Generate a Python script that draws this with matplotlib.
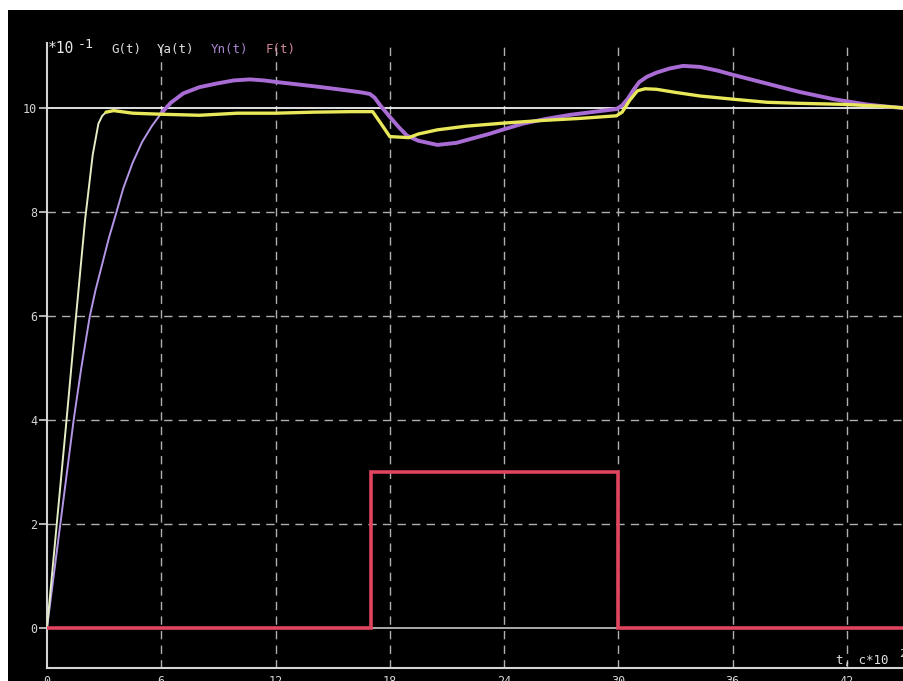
import matplotlib
matplotlib.use("Agg")
import matplotlib.pyplot as plt
from matplotlib.patches import Rectangle

# --- signals (values in units of 10^-1, time in units of 10^2 s) ---
t_g = [0, 45]
g = [10, 10]

t_ya = [0, 0.5, 1.0, 1.5, 2.0, 2.4, 2.7, 2.9, 3.1, 3.5, 4.5, 6, 8, 10, 12, 14, 16, 17.1,
        17.5, 18.0, 19.0, 19.5, 20.5, 22, 24, 26, 28, 29.9, 30.2, 30.6, 31.0, 31.4, 32.0,
        33.0, 34.3, 36, 37.8, 39.5, 41.8, 44, 45]
ya = [0, 1.95, 3.9, 5.9, 7.85, 9.1, 9.7, 9.85, 9.92, 9.95, 9.9, 9.88, 9.86, 9.9, 9.9, 9.92, 9.93, 9.93,
      9.72, 9.45, 9.43, 9.5, 9.58, 9.65, 9.71, 9.76, 9.8, 9.85, 9.92, 10.15, 10.33, 10.37, 10.36,
      10.3, 10.23, 10.17, 10.11, 10.09, 10.07, 10.03, 10.0]

t_yn = [0, 0.35, 0.7, 1.05, 1.4, 1.8, 2.25, 2.55, 2.9, 3.25, 3.65, 4.0, 4.5, 5.0, 5.5, 6.0,
        6.5, 7.15, 8.0, 8.9, 9.8, 10.65, 11.4, 12.05, 13.0, 14.2, 15.5, 16.5, 16.95, 17.2,
        17.5, 18.0, 18.5, 18.9, 19.5, 20.5, 21.5, 22.4, 23.2, 23.9, 25.0, 26.2, 27.5, 28.8,
        29.9, 30.2, 30.5, 30.8, 31.1, 31.5, 32.0, 32.7, 33.4, 34.3, 35.2, 36, 37.8, 39.5,
        41.3, 43.0, 44, 45]
yn = [0, 1.0, 2.0, 3.0, 4.0, 5.0, 6.0, 6.5, 7.0, 7.5, 8.0, 8.45, 8.95, 9.35, 9.65, 9.9,
      10.1, 10.28, 10.4, 10.47, 10.53, 10.55, 10.53, 10.5, 10.46, 10.41, 10.35, 10.3, 10.27, 10.2,
      10.05, 9.83, 9.62, 9.47, 9.37, 9.29, 9.33, 9.42, 9.5, 9.58, 9.7, 9.79, 9.87, 9.93,
      9.98, 10.05, 10.18, 10.35, 10.5, 10.6, 10.68, 10.76, 10.81, 10.79, 10.72, 10.64, 10.47, 10.31,
      10.17, 10.07, 10.03, 10.0]

t_f = [0, 17.0, 17.0, 30.0, 30.0, 45]
f = [0, 0, 3, 3, 0, 0]

x_ticks = [0, 6, 12, 18, 24, 30, 36, 42]
y_ticks = [0, 2, 4, 6, 8, 10]
grid_y = [2, 4, 6, 8]

W, H = 904, 681
fig = plt.figure(figsize=(W / 100, H / 100), dpi=100, facecolor="white")
fig.patches.append(Rectangle((8 / W, 0), 1, (H - 10) / H, transform=fig.transFigure,
                             facecolor="black", edgecolor="none", zorder=-10))

ax = fig.add_axes([47 / W, (H - 668) / H, (W - 47) / W, (668 - 43) / H])
ax.set_facecolor("black")
ax.set_xlim(0, 45)
ax.set_ylim(-0.77, 11.25)

mono = "DejaVu Sans Mono"
axis_col = "#d4d4d4"
grid_col = "#b0b0b0"

# grid
for yv in grid_y:
    ax.axhline(yv, color=grid_col, lw=1.0, dashes=(6, 4.5), zorder=1)
for xv in x_ticks[1:]:
    ax.axvline(xv, color=grid_col, lw=1.0, dashes=(6, 4.5), zorder=1)
ax.axhline(0, color="#c8c8c8", lw=1.2, zorder=1)

# G(t)
ax.plot(t_g, g, color="#f2f2f2", lw=1.3, zorder=2)
# Yn(t): thin pale rise, then thick trace
k_n = 15
ax.plot(t_yn[:k_n + 1], yn[:k_n + 1], color="#b496e6", lw=1.4, zorder=3)
ax.plot(t_yn[k_n:], yn[k_n:], color="#a86cd4", lw=2.8, zorder=3,
        solid_joinstyle="round", solid_capstyle="round")
# Ya(t): thin pale rise, then thick yellow trace
k_a = 8
ax.plot(t_ya[:k_a + 1], ya[:k_a + 1], color="#e4eec4", lw=1.4, zorder=4)
ax.plot(t_ya[k_a:], ya[k_a:], color="#e8e85a", lw=2.4, zorder=4,
        solid_joinstyle="round", solid_capstyle="round")
# F(t)
ax.plot(t_f, f, color="#e0445e", lw=2.6, zorder=5, solid_joinstyle="miter")

# axes
for s in ["top", "right"]:
    ax.spines[s].set_visible(False)
for s in ["left", "bottom"]:
    ax.spines[s].set_color(axis_col)
    ax.spines[s].set_linewidth(1.5)

ax.set_yticks(y_ticks)
ax.set_yticklabels([str(v) for v in y_ticks])
ax.set_xticks(x_ticks)
ax.set_xticklabels([str(v) for v in x_ticks])
ax.tick_params(axis="y", direction="out", length=6, width=1.2, color=axis_col,
               labelcolor=axis_col, labelsize=8.5, pad=1)
ax.tick_params(axis="x", length=0, labelcolor=axis_col, labelsize=8.5, pad=5)
for lbl in ax.get_xticklabels() + ax.get_yticklabels():
    lbl.set_family(mono)

# header: scale factor and signal names
def ftext(px, py, s, color, size=9):
    fig.text(px / W, 1 - py / H, s, color=color, fontsize=size, family=mono,
             va="baseline", ha="left")

ftext(48, 53, "*10", "#e8e8e8", size=10.5)
ftext(78, 48, "-1", "#e8e8e8", size=9.5)
ftext(111, 53, "G(t)", "#e0e0e0")
ftext(157, 53, "Ya(t)", "#e0e0e0")
ftext(211, 53, "Yn(t)", "#a888d0")
ftext(266, 53, "F(t)", "#d08898")

# axis caption
ftext(836, 664, "t, c*10", "#e0e0e0")
ftext(899, 657, "2", "#e0e0e0", size=8)

fig.savefig("out.png", dpi=100, facecolor=fig.get_facecolor())
